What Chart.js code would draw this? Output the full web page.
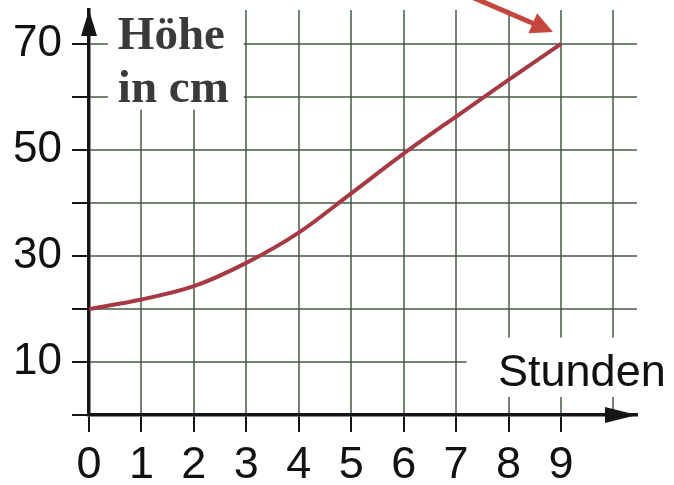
<!DOCTYPE html>
<html>
<head>
<meta charset="utf-8">
<script src="https://cdn.jsdelivr.net/npm/chart.js@4/dist/chart.umd.min.js"></script>
<style>
  html, body { margin: 0; padding: 0; background: #fff; }
  #wrap { width: 674px; height: 485px; position: relative; }
</style>
</head>
<body>
<div id="wrap"><canvas id="growthChart"></canvas></div>
<script>
// Höhe einer Pflanze über die Zeit (Stunden)
const hours = [0, 1, 2, 3, 4, 5, 6, 7, 8, 9];
const heights = [20, 21.8, 24.3, 28.7, 34.4, 41.8, 49.3, 56.3, 63.2, 70];
const xTickLabels = ['0', '1', '2', '3', '4', '5', '6', '7', '8', '9'];
const yTickLabels = [10, 30, 50, 70];
const yAxisTitle = ['Höhe', 'in cm'];
const xAxisTitle = 'Stunden';

const GRID = 'rgba(55, 80, 55, 0.7)';
const AXIS = '#151515';
const CURVE = '#a63a44';
const NOTE = '#c4463c';

function arrowHead(ctx, tipX, tipY, angle, len, half, color) {
    ctx.save();
    ctx.translate(tipX, tipY);
    ctx.rotate(angle);
    ctx.beginPath();
    ctx.moveTo(0, 0);
    ctx.lineTo(-len, -half);
    ctx.lineTo(-len, half);
    ctx.closePath();
    ctx.fillStyle = color;
    ctx.fill();
    ctx.restore();
}

// white patches behind the labels, axis arrows, texts and the red pointer
const paperPlugin = {
    id: 'paper',
    beforeDatasetsDraw(chart) {
        const { ctx, scales: { x, y } } = chart;
        ctx.save();
        ctx.fillStyle = '#fff';
        // behind "Höhe in cm"
        ctx.fillRect(x.getPixelForValue(0.36), 0,
            x.getPixelForValue(2.95) - x.getPixelForValue(0.36), y.getPixelForValue(57.6));
        // behind "Stunden"
        ctx.fillRect(x.getPixelForValue(7.2), y.getPixelForValue(14.6),
            674 - x.getPixelForValue(7.2), y.getPixelForValue(3.4) - y.getPixelForValue(14.6));
        ctx.restore();
    },
    afterDraw(chart) {
        const { ctx, chartArea: a, scales: { x, y } } = chart;
        const x0 = x.getPixelForValue(0);
        const y0 = y.getPixelForValue(0);

        // axis arrows
        arrowHead(ctx, x0, a.top, -Math.PI / 2, 26, 8, AXIS);
        arrowHead(ctx, a.right, y0, 0, 32, 8, AXIS);

        // axis titles
        ctx.save();
        ctx.fillStyle = '#3a3a3a';
        ctx.font = 'bold 47px "Liberation Serif", serif';
        ctx.textAlign = 'left';
        ctx.textBaseline = 'alphabetic';
        ctx.fillText(yAxisTitle[0], x.getPixelForValue(0.55), y.getPixelForValue(69.1));
        ctx.fillText(yAxisTitle[1], x.getPixelForValue(0.55), y.getPixelForValue(59));
        ctx.fillStyle = '#111';
        ctx.font = '45px "Liberation Sans", Arial, sans-serif';
        ctx.fillText(xAxisTitle, x.getPixelForValue(7.8), y.getPixelForValue(5.5));
        ctx.restore();

        // red pointer to the last value
        const last = hours.length - 1;
        const tipX = x.getPixelForValue(hours[last]) - 8;
        const tipY = y.getPixelForValue(heights[last]) - 12;
        const ang = Math.atan2(0.43, 1);
        ctx.save();
        ctx.strokeStyle = NOTE;
        ctx.lineWidth = 5;
        ctx.beginPath();
        ctx.moveTo(tipX - 120 * Math.cos(ang), tipY - 120 * Math.sin(ang));
        ctx.lineTo(tipX - 15 * Math.cos(ang), tipY - 15 * Math.sin(ang));
        ctx.stroke();
        ctx.restore();
        arrowHead(ctx, tipX, tipY, ang, 22, 11, NOTE);
    }
};

const ctx = document.getElementById('growthChart').getContext('2d');

new Chart(ctx, {
    type: 'line',
    data: {
        datasets: [{
            label: 'Höhe',
            data: hours.map((h, i) => ({ x: h, y: heights[i] })),
            borderColor: CURVE,
            borderWidth: 4,
            pointRadius: 0,
            cubicInterpolationMode: 'monotone',
            fill: false
        }]
    },
    options: {
        responsive: true,
        maintainAspectRatio: false,
        animation: false,
        layout: { padding: { top: 10, right: 37, left: 0, bottom: 0 } },
        plugins: {
            legend: { display: false },
            tooltip: { enabled: false }
        },
        scales: {
            x: {
                type: 'linear',
                min: 0,
                max: 10.45,
                afterFit: s => {
                    s.height = 70;
                    s.paddingLeft = 0;
                    s.paddingRight = 0;
                },
                ticks: {
                    stepSize: 1,
                    includeBounds: false,
                    padding: 7,
                    color: '#111',
                    font: { family: "'Liberation Sans', Arial, sans-serif", size: 45 },
                    maxRotation: 0,
                    autoSkip: false,
                    callback: v => xTickLabels[v] ?? ''
                },
                grid: {
                    color: GRID,
                    lineWidth: 2,
                    tickLength: 17,
                    tickColor: c => (c.tick && c.tick.value === 10 ? 'rgba(0,0,0,0)' : AXIS)
                },
                border: { display: true, color: AXIS, width: 3.5 }
            },
            y: {
                min: 0,
                max: 76.4,
                afterFit: s => {
                    s.width = 89;
                    s.paddingTop = 0;
                    s.paddingBottom = 0;
                },
                ticks: {
                    stepSize: 10,
                    includeBounds: false,
                    padding: 10,
                    color: '#111',
                    font: { family: "'Liberation Sans', Arial, sans-serif", size: 44 },
                    callback: v => (yTickLabels.includes(v) ? String(v) : '')
                },
                grid: {
                    color: GRID,
                    lineWidth: 2,
                    tickLength: 17,
                    tickColor: AXIS
                },
                border: { display: true, color: AXIS, width: 3.5 }
            }
        }
    },
    plugins: [paperPlugin]
});
</script>
</body>
</html>
